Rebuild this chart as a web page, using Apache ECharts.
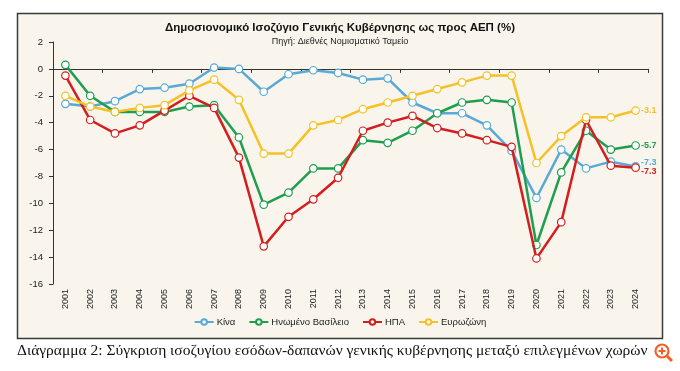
<!DOCTYPE html>
<html>
<head>
<meta charset="utf-8">
<script src="https://cdn.jsdelivr.net/npm/echarts@6/dist/echarts.min.js"></script>
<style>
html,body{margin:0;padding:0;background:#fff;}
#c{width:680px;height:371px;}
</style>
</head>
<body>
<div id="c"></div>
<script>
var years = ['2001','2002','2003','2004','2005','2006','2007','2008','2009','2010','2011','2012','2013','2014','2015','2016','2017','2018','2019','2020','2021','2022','2023','2024'];
var china = [-2.6,-2.8,-2.4,-1.5,-1.4,-1.1,0.1,0.0,-1.7,-0.4,-0.1,-0.3,-0.8,-0.7,-2.5,-3.3,-3.3,-4.2,-6.1,-9.6,-6.0,-7.4,-6.9,-7.25];
var uk = [0.3,-2.0,-3.2,-3.2,-3.2,-2.8,-2.7,-5.1,-10.1,-9.2,-7.4,-7.4,-5.3,-5.5,-4.6,-3.3,-2.5,-2.3,-2.5,-13.1,-7.7,-4.6,-6.0,-5.7];
var usa = [-0.5,-3.8,-4.8,-4.2,-3.1,-2.0,-2.9,-6.6,-13.2,-11.0,-9.7,-8.1,-4.6,-4.0,-3.5,-4.4,-4.8,-5.3,-5.8,-14.1,-11.4,-3.8,-7.2,-7.35];
var euro = [-2.0,-2.8,-3.2,-2.9,-2.7,-1.6,-0.8,-2.3,-6.3,-6.3,-4.2,-3.8,-3.0,-2.5,-2.0,-1.5,-1.0,-0.5,-0.5,-7.0,-5.0,-3.6,-3.6,-3.1];
var seriesNames = ['Κίνα','Ηνωμένο Βασίλειο','ΗΠΑ','Ευρωζώνη'];
var yTicks = {min:-16, max:2, interval:2};
var titleText = 'Δημοσιονομικό Ισοζύγιο Γενικής Κυβέρνησης ως προς ΑΕΠ (%)';
var subText = 'Πηγή: Διεθνές Νομισματικό Ταμείο';
var captionText = 'Διάγραμμα 2: Σύγκριση ισοζυγίου εσόδων-δαπανών γενικής κυβέρνησης μεταξύ επιλεγμένων χωρών';

var colors = ['#58A9D6','#1E9E4E','#D41E1E','#F5C125'];
var dataSets = [china, uk, usa, euro];
var labelOffsets = [[0,-4],[0,0],[0,4],[0,0]];

var chart = echarts.init(document.getElementById('c'));
var series = dataSets.map(function(d,i){
  return {
    name: seriesNames[i],
    type: 'line',
    xAxisIndex: 0,
    data: d.map(function(v,j){
      if (j === d.length-1) {
        return {value:v, label:{show:true, position:'right', distance:1, offset:labelOffsets[i],
          formatter:function(p){return p.value.toFixed(1);},
          color:colors[i], fontWeight:'bold', fontSize:9, fontFamily:'Liberation Sans, Arial'}};
      }
      return v;
    }),
    symbol:'circle',
    symbolSize:7.5,
    showAllSymbol:true,
    lineStyle:{width:2.5,color:colors[i]},
    itemStyle:{color:'#fff',borderColor:colors[i],borderWidth:1.2},
    emphasis:{disabled:true},
    z: 3 + i,
    animation:false
  };
});

chart.setOption({
  animation:false,
  backgroundColor:'#fff',
  color: colors,
  graphic:[
    {type:'rect', shape:{x:17.5,y:13.5,width:645,height:325}, style:{fill:'#F9F5EC',stroke:'#3a3a3a',lineWidth:1.5}, z:-10},
    {type:'text', left:17, top:343, style:{text:captionText, font:'15.5px "Liberation Serif", "DejaVu Serif", serif', fill:'#111'}},
    {type:'circle', shape:{cx:662,cy:351,r:6.5}, style:{fill:'#fff',stroke:'#F0622A',lineWidth:2.2}, z:20},
    {type:'line', shape:{x1:667,y1:356,x2:672,y2:361}, style:{stroke:'#F0622A',lineWidth:3}, z:20},
    {type:'line', shape:{x1:658.5,y1:351,x2:665.5,y2:351}, style:{stroke:'#F0622A',lineWidth:2}, z:21},
    {type:'line', shape:{x1:662,y1:347.5,x2:662,y2:354.5}, style:{stroke:'#F0622A',lineWidth:2}, z:21}
  ],
  title:{
    text:titleText, subtext:subText, left:'center', top:17, itemGap:3,
    textStyle:{fontFamily:'Liberation Sans, Arial', fontSize:11.5, fontWeight:'bold', color:'#111'},
    subtextStyle:{fontFamily:'Liberation Sans, Arial', fontSize:9, color:'#222'}
  },
  legend:{
    data:seriesNames, bottom:39, left:'center', itemWidth:19, itemHeight:7, itemGap:13,
    textStyle:{fontFamily:'Liberation Sans, Arial', fontSize:9.5, color:'#222', padding:[0,0,0,-2]}
  },
  grid:{left:53, right:32, top:42, bottom:87, containLabel:false},
  xAxis:[
    {type:'category', data:years, position:'bottom', boundaryGap:true,
     axisLine:{show:false, onZero:false}, axisTick:{show:false},
     axisLabel:{rotate:90, fontSize:9, color:'#222', fontFamily:'Liberation Sans, Arial', margin:5, interval:0}},
    {type:'category', data:years, position:'top', boundaryGap:true,
     axisLine:{show:true, onZero:true, lineStyle:{color:'#333',width:1}},
     axisTick:{show:true, inside:true, length:4, lineStyle:{color:'#333'}},
     axisLabel:{show:false}}
  ],
  yAxis:{
    type:'value', min:yTicks.min, max:yTicks.max, interval:yTicks.interval,
    axisLine:{show:true, lineStyle:{color:'#333',width:1}},
    axisTick:{show:true, length:4, lineStyle:{color:'#333'}},
    splitLine:{show:false},
    axisLabel:{fontSize:9.5, color:'#222', fontFamily:'Liberation Sans, Arial', margin:10}
  },
  series: series
});
</script>
</body>
</html>
